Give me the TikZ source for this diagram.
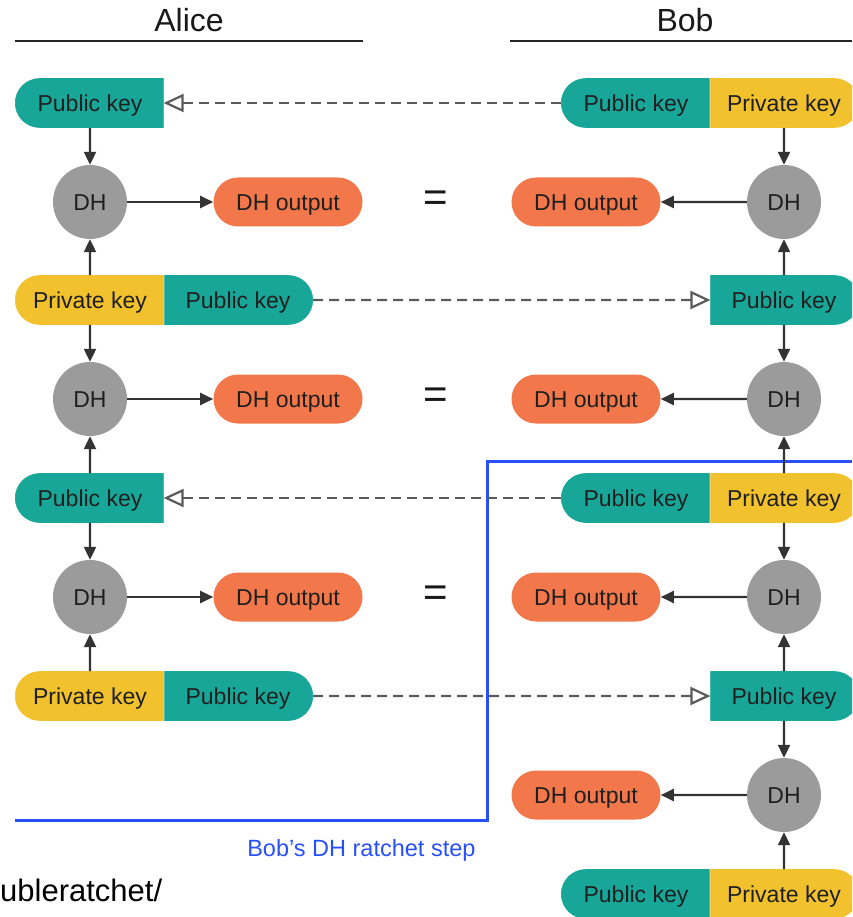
\documentclass[tikz,border=0pt]{standalone}
\usepackage{fontspec}
\setmainfont{Liberation Sans}
\usetikzlibrary{arrows.meta, positioning, shapes.misc}
\definecolor{keyteal}{RGB}{23, 166, 151}
\definecolor{keyyellow}{RGB}{242, 193, 46}
\definecolor{outorange}{RGB}{242, 120, 75}
\definecolor{dhgray}{RGB}{155, 155, 155}
\definecolor{ratchetblue}{RGB}{40, 80, 250}
\definecolor{dashgray}{RGB}{90, 90, 90}

\begin{document}
\begin{tikzpicture}[x=1pt, y=-1pt,
    keybox/.style={rounded rectangle, minimum width=148pt, minimum height=49pt, inner sep=0pt, line width=0.6pt, text height=16.5pt, text depth=0pt, font=\fontsize{23}{27}\selectfont, text=black!88},
    publeft/.style={keybox, fill=keyteal, draw=keyteal, rounded rectangle east arc=none},
    privleft/.style={keybox, fill=keyyellow, draw=keyyellow, rounded rectangle east arc=none},
    pubright/.style={keybox, fill=keyteal, draw=keyteal, rounded rectangle west arc=none},
    privright/.style={keybox, fill=keyyellow, draw=keyyellow, rounded rectangle west arc=none},
    dhout/.style={keybox, fill=outorange, minimum width=149pt},
    dh/.style={circle, fill=dhgray, minimum size=74pt, inner sep=0pt, text height=16.5pt, text depth=0pt, font=\fontsize{23}{27}\selectfont, text=black!88},
    equals/.style={font=\fontsize{42}{46}\selectfont, text=black!90},
    title/.style={font=\fontsize{32}{36}\selectfont, text=black!90, anchor=base},
    arrow/.style={-{Triangle[length=13pt, width=12pt]}, line width=2.2pt, draw=black!80},
    send/.style={-{Triangle[open, length=20pt, width=18pt]}, dash pattern=on 10pt off 6pt, line width=2.2pt, draw=dashgray}
]
\clip (0,0) rectangle (852,917);

% headers
\node[title] (alice) at (189,32) {Alice};
\node[title] (bob) at (685,32) {Bob};
\draw[line width=2.5pt, black!85] (15,41) -- (363,41);
\draw[line width=2.5pt, black!85] (510,41) -- (852,41);

% ratchet step boundary
\draw[ratchetblue, line width=3pt] (15,820) -| (487,461) -- (852,461);
\node[text=ratchetblue, font=\fontsize{23.5}{27}\selectfont, anchor=base east] (steplabel) at (479,856) {Bob’s DH ratchet step};
\node[font=\fontsize{31}{35}\selectfont, anchor=base west, inner sep=0pt] (url) at (0,901) {ubleratchet/};

% Alice
\node[publeft] (akey1) at (90,103) {Public key};
\node[dh] (adh1) at (90,202) {DH};
\node[dhout] (aout1) at (288,202) {DH output};
\node[privleft] (apriv2) at (90,300) {Private key};
\node[pubright] (apub2) at (238,300) {Public key};
\node[dh] (adh2) at (90,399) {DH};
\node[dhout] (aout2) at (288,399) {DH output};
\node[publeft] (akey3) at (90,498) {Public key};
\node[dh] (adh3) at (90,597) {DH};
\node[dhout] (aout3) at (288,597) {DH output};
\node[privleft] (apriv4) at (90,696) {Private key};
\node[pubright] (apub4) at (238,696) {Public key};

\node[equals] (eq1) at (436,201) {=};
\node[equals] (eq2) at (436,398) {=};
\node[equals] (eq3) at (436,596) {=};

% Bob
\node[publeft] (bpub1) at (636,103) {Public key};
\node[privright] (bpriv1) at (784,103) {Private key};
\node[dh] (bdh1) at (784,202) {DH};
\node[dhout] (bout1) at (586,202) {DH output};
\node[pubright] (bpub2) at (784,300) {Public key};
\node[dh] (bdh2) at (784,399) {DH};
\node[dhout] (bout2) at (586,399) {DH output};
\node[publeft] (bpub3) at (636,498) {Public key};
\node[privright] (bpriv3) at (784,498) {Private key};
\node[dh] (bdh3) at (784,597) {DH};
\node[dhout] (bout3) at (586,597) {DH output};
\node[pubright] (bpub4) at (784,696) {Public key};
\node[dh] (bdh4) at (784,795) {DH};
\node[dhout] (bout4) at (586,795) {DH output};
\node[publeft] (bpub5) at (636,894) {Public key};
\node[privright] (bpriv5) at (784,894) {Private key};

% sent public keys
\draw[send] (bpub1) -- (akey1);
\draw[send] (apub2) -- (bpub2);
\draw[send] (bpub3) -- (akey3);
\draw[send] (apub4) -- (bpub4);

\draw[arrow] (akey1) -- (adh1);
\draw[arrow] (apriv2) -- (adh1);
\draw[arrow] (apriv2) -- (adh2);
\draw[arrow] (akey3) -- (adh2);
\draw[arrow] (akey3) -- (adh3);
\draw[arrow] (apriv4) -- (adh3);
\draw[arrow] (adh1) -- (aout1);
\draw[arrow] (adh2) -- (aout2);
\draw[arrow] (adh3) -- (aout3);

\draw[arrow] (bpriv1) -- (bdh1);
\draw[arrow] (bpub2) -- (bdh1);
\draw[arrow] (bpub2) -- (bdh2);
\draw[arrow] (bpriv3) -- (bdh2);
\draw[arrow] (bpriv3) -- (bdh3);
\draw[arrow] (bpub4) -- (bdh3);
\draw[arrow] (bpub4) -- (bdh4);
\draw[arrow] (bpriv5) -- (bdh4);
\draw[arrow] (bdh1) -- (bout1);
\draw[arrow] (bdh2) -- (bout2);
\draw[arrow] (bdh3) -- (bout3);
\draw[arrow] (bdh4) -- (bout4);

\end{tikzpicture}
\end{document}
